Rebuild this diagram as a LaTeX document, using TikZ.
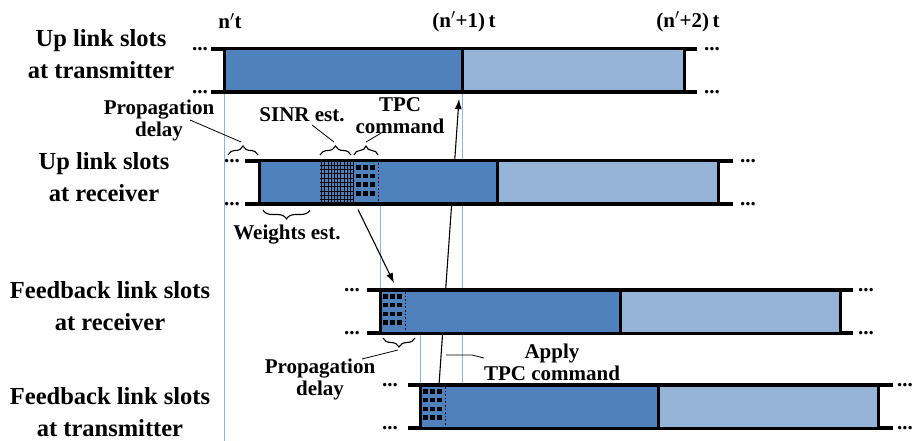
\documentclass[tikz,border=0pt]{standalone}
\usepackage{fontspec}
\setmainfont{Liberation Serif}
\usetikzlibrary{arrows.meta, decorations.pathreplacing, backgrounds, calc}
\definecolor{slotdark}{RGB}{79,129,189}
\definecolor{slotlight}{RGB}{149,179,215}
\definecolor{timecolor}{RGB}{141,180,226}

\begin{document}
\begin{tikzpicture}[x=1pt, y=-1pt,
  % text styles
  rowlabel/.style={align=center, inner sep=0pt,
    font=\fontsize{24.5}{32.5}\selectfont\bfseries},
  timelabel/.style={inner sep=0pt,
    font=\fontsize{21}{22}\selectfont\bfseries},
  notelabel/.style={align=center, inner sep=0pt,
    font=\fontsize{21}{22}\selectfont\bfseries},
  dots/.style={inner sep=0pt, anchor=base, font=\fontsize{21}{21}\selectfont\bfseries},
  % slot styles
  curslot/.style={rectangle, draw=black, line width=3pt, fill=slotdark,
    minimum height=43pt, inner sep=0pt, outer sep=0pt, anchor=north west},
  nxtslot/.style={curslot, fill=slotlight},
  subslot/.style={rectangle, fill=slotdark, minimum height=40pt,
    inner sep=0pt, outer sep=0pt, anchor=north west},
  rail/.style={line width=3.2pt},
  gridline/.style={line width=0.5pt},
  % connectors
  arrow/.style={-{Latex[length=10pt, width=7pt]}, line width=1.1pt},
  timeline/.style={draw=timecolor, line width=1pt},
  leader/.style={line width=0.8pt},
  bracetop/.style={decorate, decoration={brace, amplitude=9pt}, line width=1.1pt},
  bracebot/.style={decorate, decoration={brace, mirror, amplitude=9pt}, line width=1.1pt}
]
\useasboundingbox (0,0) rectangle (914,441);

% ===== TIME MARKS =====
\node[timelabel] (t0) at (230,21) {n$'$t};
\node[timelabel] (t1) at (464,22) {(n$'$+1)\,t};
\node[timelabel] (t2) at (688,22) {(n$'$+2)\,t};

% ===== ROW LABELS =====
\node[rowlabel] (lbl-ut) at (101,54) {Up link slots\\at transmitter};
\node[rowlabel] (lbl-ur) at (104,177) {Up link slots\\at receiver};
\node[rowlabel] (lbl-fr) at (110,306) {Feedback link slots\\at receiver};
\node[rowlabel] (lbl-ft) at (110,412) {Feedback link slots\\at transmitter};

% ===== UP LINK AT TRANSMITTER =====
\draw[rail] (211,49) -- (697,49);
\draw[rail] (211,92) -- (697,92);
\node[curslot, minimum width=238pt] (ut-cur) at (224,49) {};
\node[nxtslot, minimum width=222pt] (ut-nxt) at (ut-cur.north east) {};

% ===== UP LINK AT RECEIVER =====
\draw[rail] (245,161) -- (733,161);
\draw[rail] (245,204) -- (733,204);
\node[curslot, minimum width=238pt] (ur-cur) at (259,161) {};
\node[nxtslot, minimum width=221pt] (ur-nxt) at (ur-cur.north east) {};
\node[subslot, minimum width=33pt] (ur-sinr) at (320,162.5) {};
\node[subslot, minimum width=27pt] (ur-tpc) at (ur-sinr.north east) {};
\begin{scope}
  \clip (320,162.5) rectangle (353,202.5);
  \foreach \gx in {321.5,324.7,...,353} \draw[gridline] (\gx,161) -- (\gx,204);
  \foreach \gy in {165,169.3,...,204} \draw[gridline] (320,\gy) -- (353,\gy);
\end{scope}
\draw[gridline] (353,162) -- (353,203);

% ===== FEEDBACK LINK AT RECEIVER =====
\draw[rail] (367,290) -- (853,290);
\draw[rail] (367,333) -- (853,333);
\node[curslot, minimum width=240pt] (fr-cur) at (380,290) {};
\node[nxtslot, minimum width=220pt] (fr-nxt) at (fr-cur.north east) {};
\coordinate (fr-tpc) at (394,290);

% ===== FEEDBACK LINK AT TRANSMITTER =====
\draw[rail] (408,385) -- (893,385);
\draw[rail] (408,428) -- (893,428);
\node[curslot, minimum width=238pt] (ft-cur) at (420,385) {};
\node[nxtslot, minimum width=220pt] (ft-nxt) at (ft-cur.north east) {};
\coordinate (ft-tpc) at (439,385);

% TPC command symbols
\foreach \bx/\by in {353/161, 380/290, 420/385} {
  \foreach \i in {0,1,2}
    \foreach \j in {0,1,2,3}
      \fill (\bx+3.2+7*\i, \by+4.3+8.6*\j) rectangle ++(4.5,4.5);
  \draw[line width=1.6pt, dotted] (\bx+25.5,\by+2) -- (\bx+25.5,\by+41);
}

% continuation dots
\foreach \yy/\xl/\xr in {49/200/712, 92/200/712, 161/232/748, 204/232/748,
                         290/352/866, 333/352/866, 385/390/905, 428/390/905} {
  \node[dots] (dl-\yy) at (\xl,\yy+1.5) {...};
  \node[dots] (dr-\yy) at (\xr,\yy+1.5) {...};
}

% ===== BACKGROUND: time lines and apply arrow =====
\begin{scope}[on background layer]
  \draw[timeline] (ut-cur.south west) -- (224,441);
  \draw[timeline] (ur-tpc.south east) -- (fr-cur.north west);
  \draw[timeline] (ft-cur.north west) -- (ft-cur.north west |- fr-cur.south);
  \draw[timeline] (ut-cur.south east) -- (ut-cur.south east |- ft-cur.north);
  \draw[arrow] (ft-tpc) -- ($(ut-cur.south east)+(-3,7)$);
\end{scope}

% ===== BRACES =====
\draw[bracetop] (228,155) -- (258,155);
\draw[bracetop] (320,155) -- (351,155);
\draw[bracetop] (354,155) -- (378,155);
\draw[bracebot] (263,210) -- (310,210);
\draw[bracebot] (383,338) -- (415,338);

% ===== ANNOTATIONS =====
\node[notelabel] (prop1) at (159,120) {Propagation\\delay};
\node[notelabel] (sinr) at (302,115) {SINR est.};
\node[notelabel] (tpc) at (400,116) {TPC\\command};
\node[notelabel] (weights) at (287,235) {Weights est.};
\node[notelabel] (prop2) at (320,379) {Propagation\\delay};
\node[notelabel] (apply) at (552,362) {Apply\\TPC command};

\coordinate (prop1-tip) at (241,142);
\coordinate (sinr-tip) at (334,142);
\coordinate (tpc-tip) at (366,142);
\coordinate (prop2-tip) at (398,350);
\coordinate (apply-pt) at (446,355);

\draw[leader] (190,120) -- (prop1-tip);
\draw[leader] (312,125) -- (sinr-tip);
\draw[leader] (383,132) -- (tpc-tip);
\draw[leader] (362,359) -- (prop2-tip);
\draw[leader] (apply-pt) -- ++(26,0) -- ([yshift=4pt]apply.west);

% ===== TPC FEEDBACK ARROW =====
\draw[arrow] ($(ur-tpc.south west)+(5,7)$) -- ($(fr-tpc)+(0,-7)$);

\end{tikzpicture}
\end{document}
